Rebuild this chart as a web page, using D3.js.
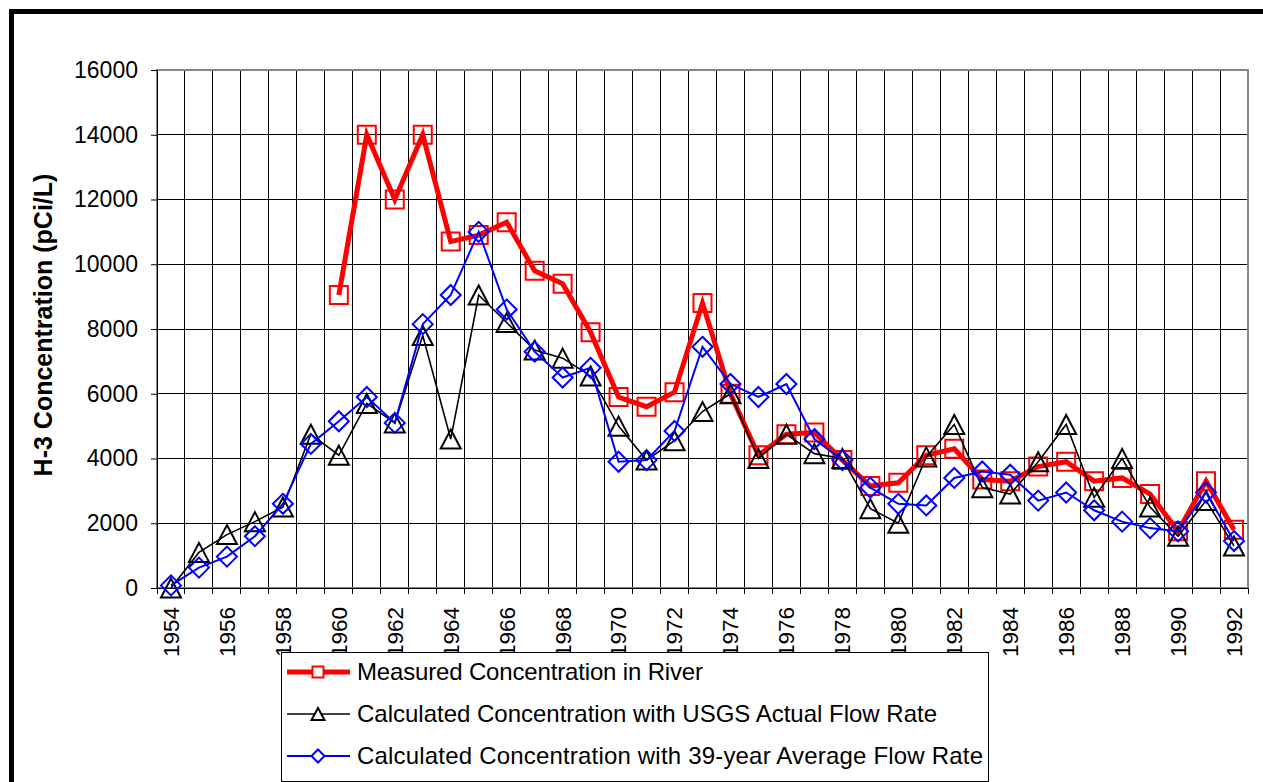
<!DOCTYPE html>
<html>
<head>
<meta charset="utf-8">
<script src="https://cdnjs.cloudflare.com/ajax/libs/d3/7.8.5/d3.min.js"></script>
<style>
	body{margin:0;background:#fff;}
	svg{display:block;font-family:"Liberation Sans",Arial,sans-serif;}
</style>
</head>
<body>
<svg width="1263" height="782"></svg>
<script>
var years = [1954,1955,1956,1957,1958,1959,1960,1961,1962,1963,1964,1965,1966,1967,1968,1969,1970,1971,1972,1973,
	1974,1975,1976,1977,1978,1979,1980,1981,1982,1983,1984,1985,1986,1987,1988,1989,1990,1991,1992];
var xTickLabels = [1954,1956,1958,1960,1962,1964,1966,1968,1970,1972,1974,1976,1978,1980,1982,1984,1986,1988,1990,1992];
var yTicks = [0,2000,4000,6000,8000,10000,12000,14000,16000];

var measured = [null,null,null,null,null,null,9050,14000,12000,14000,10700,10900,11300,9800,9400,7900,5900,5600,6050,8800,
	6000,4100,4750,4800,3950,3150,3250,4100,4300,3350,3300,3750,3900,3300,3400,2900,1750,3300,1800];
var usgs = [0,1100,1650,2050,2500,4750,4100,5700,5100,7800,4600,9050,8200,7350,7100,6550,5000,3950,4550,5450,
	6000,4000,4750,4150,4000,2450,2000,4050,5050,3100,2900,3900,5050,2800,4000,2500,1600,2700,1300];
var avg39 = [80,630,970,1600,2600,4450,5150,5900,5100,8150,9050,11000,8600,7300,6500,6800,3900,3950,4850,7450,
	6300,5900,6300,4600,3950,3100,2600,2550,3400,3600,3500,2700,2950,2400,2050,1850,1750,2950,1450];

var seriesNames = ["Measured Concentration in River",
	"Calculated Concentration with USGS Actual Flow Rate",
	"Calculated Concentration with 39-year Average Flow Rate"];

var svg = d3.select("svg");

var x = d3.scaleBand().domain(years).range([157,1248]);
var y = d3.scaleLinear().domain([0,16000]).range([588,70]);
var cx = d => x(d) + x.bandwidth()/2;

// outer chart frame
svg.append("path")
	.attr("d","M11.5,800V11.5H1290")
	.attr("fill","none")
	.attr("stroke","#000")
	.attr("stroke-width",5);

var grid = svg.append("g").attr("shape-rendering","crispEdges");
grid.selectAll(".hg")
	.data(yTicks)
	.enter()
	.append("line")
	.attr("class","hg")
	.attr("x1",157).attr("x2",1248)
	.attr("y1",d=>y(d)).attr("y2",d=>y(d))
	.attr("stroke","#000");
grid.selectAll(".vg")
	.data(years.slice(1))
	.enter()
	.append("line")
	.attr("class","vg")
	.attr("x1",d=>x(d)).attr("x2",d=>x(d))
	.attr("y1",70).attr("y2",594)
	.attr("stroke","#000");

svg.append("rect")
	.attr("x",157).attr("y",70)
	.attr("width",1091).attr("height",518)
	.attr("fill","none")
	.attr("stroke","#888")
	.attr("stroke-width",2);

// ticks at category boundaries below the axis
grid.append("line").attr("x1",157).attr("x2",157).attr("y1",588).attr("y2",594).attr("stroke","#000");
grid.append("line").attr("x1",1248).attr("x2",1248).attr("y1",588).attr("y2",594).attr("stroke","#000");

var yAxis = d3.axisLeft(y).tickValues(yTicks).tickSize(6).tickSizeOuter(0).tickPadding(13).tickFormat(d3.format("d"));
var yAxisGroup = svg.append("g")
	.attr("transform","translate(157,0)")
	.call(yAxis);
yAxisGroup.selectAll("text").style("font-size","23px").attr("fill","#000").style("font-family","\"Liberation Sans\",Arial,sans-serif");
yAxisGroup.select(".domain").attr("stroke","#000");

var xAxis = d3.axisBottom(x).tickValues(xTickLabels).tickSize(0).tickSizeOuter(0);
var xAxisGroup = svg.append("g")
	.attr("transform","translate(0,588)")
	.call(xAxis);
xAxisGroup.select(".domain").attr("stroke","#000");
xAxisGroup.selectAll("text")
	.attr("transform","rotate(-90)")
	.attr("x",-19)
	.attr("y",0)
	.attr("dy","0.35em")
	.style("text-anchor","end")
	.style("font-size","22.5px")
	.style("font-family","\"Liberation Sans\",Arial,sans-serif")
	.attr("fill","#000");

svg.append("text")
	.attr("transform","translate(43,325) rotate(-90)")
	.attr("dy","0.35em")
	.attr("text-anchor","middle")
	.style("font-size","25px")
	.style("font-weight","bold")
	.text("H-3 Concentration (pCi/L)");

function square(s){ return "M"+(-s/2)+","+(-s/2)+"h"+s+"v"+s+"h"+(-s)+"Z"; }
function triangle(w,h){ return "M0,"+(-h/2)+"L"+(w/2)+","+(h/2)+"H"+(-w/2)+"Z"; }
function diamond(s){ return "M0,"+(-s/2)+"L"+(s/2)+",0L0,"+(s/2)+"L"+(-s/2)+",0Z"; }

var series = [
	{values:measured, color:"#ff0000", width:5, marker:square(18), legendMarker:square(11)},
	{values:usgs, color:"#000000", width:1.6, marker:triangle(20,19), legendMarker:triangle(13,12)},
	{values:avg39, color:"#0000ff", width:2, marker:diamond(20), legendMarker:diamond(13)}
];

var line = d3.line()
	.defined(d=>d.v!=null)
	.x(d=>cx(d.year))
	.y(d=>y(d.v));

series.forEach(function(s){
	var pts = years.map((yr,i)=>({year:yr, v:s.values[i]}));
	var g = svg.append("g");
	g.append("path")
		.datum(pts)
		.attr("d",line)
		.attr("fill","none")
		.attr("stroke",s.color)
		.attr("stroke-width",s.width);
	g.selectAll("path.mk")
		.data(pts.filter(d=>d.v!=null))
		.enter()
		.append("path")
		.attr("class","mk")
		.attr("transform",d=>"translate("+cx(d.year)+","+y(d.v)+")")
		.attr("d",s.marker)
		.attr("fill","none")
		.attr("stroke",s.color)
		.attr("stroke-width",2);
});

// legend
var legend = svg.append("g");
legend.append("rect")
	.attr("x",281.5).attr("y",652.5)
	.attr("width",707).attr("height",129)
	.attr("fill","#fff")
	.attr("stroke","#000");
var rowY = [672,714,756];
var textLen = [346,580,626];
series.forEach(function(s,i){
	legend.append("line")
		.attr("x1",287).attr("x2",350)
		.attr("y1",rowY[i]).attr("y2",rowY[i])
		.attr("stroke",s.color)
		.attr("stroke-width",s.width);
	legend.append("path")
		.attr("transform","translate(318,"+rowY[i]+")")
		.attr("d",s.legendMarker)
		.attr("fill","#fff")
		.attr("stroke",s.color)
		.attr("stroke-width",2);
	legend.append("text")
		.attr("x",357).attr("y",rowY[i])
		.attr("dy","0.35em")
		.attr("textLength",textLen[i])
		.attr("lengthAdjust","spacing")
		.style("font-size","24px")
		.text(seriesNames[i]);
});
</script>
</body>
</html>
